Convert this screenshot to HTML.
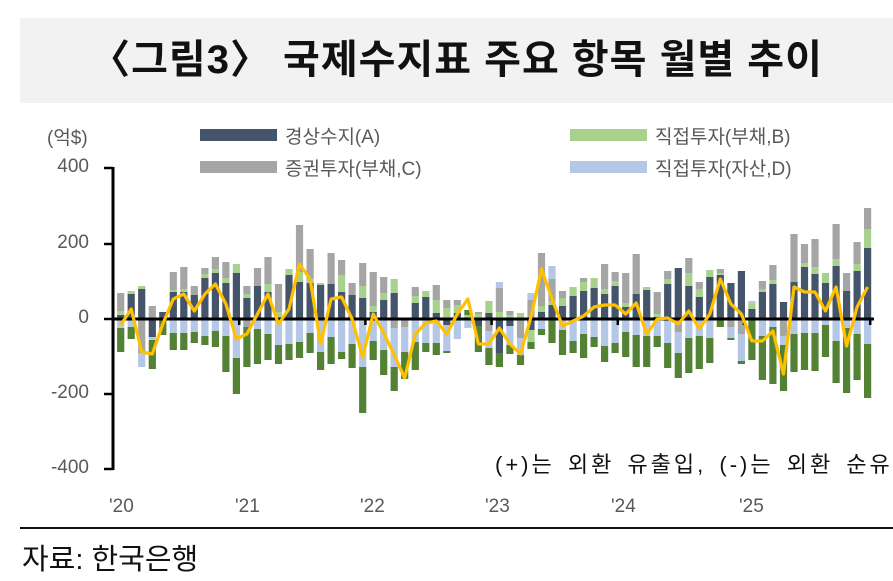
<!DOCTYPE html>
<html><head><meta charset="utf-8">
<style>
html,body{margin:0;padding:0;background:#fff;}
body{width:893px;height:581px;position:relative;overflow:hidden;font-family:"Liberation Sans","Noto Sans CJK KR",sans-serif;}
.band{position:absolute;left:20px;top:18px;width:873px;height:85px;background:#f2f2f2;}
.title{position:absolute;left:20px;top:18px;width:873px;height:85px;line-height:85px;text-align:center;font-size:40px;font-weight:bold;color:#111;letter-spacing:1px;}
.t{position:absolute;font-size:19px;color:#595959;white-space:nowrap;}
.sw{position:absolute;width:77px;height:12px;}
.src{position:absolute;left:22px;top:536px;font-size:29px;color:#111;}
.hr{position:absolute;left:20px;top:527px;width:873px;height:2px;background:#111;}
svg{position:absolute;left:0;top:0;}
</style></head><body>
<div class="band"></div>
<div class="title">〈그림3〉 국제수지표 주요 항목 월별 추이</div>
<div class="t" style="left:47px;top:123px;">(억$)</div>
<div class="sw" style="left:200px;top:129px;background:#44546a"></div>
<div class="t" style="left:285px;top:122px;">경상수지(A)</div>
<div class="sw" style="left:570px;top:129px;background:#a9d18e"></div>
<div class="t" style="left:655px;top:122px;">직접투자(부채,B)</div>
<div class="sw" style="left:200px;top:161px;background:#a5a5a5"></div>
<div class="t" style="left:285px;top:154px;">증권투자(부채,C)</div>
<div class="sw" style="left:570px;top:161px;background:#b4c7e7"></div>
<div class="t" style="left:655px;top:154px;">직접투자(자산,D)</div>
<div class="t" style="left:40px;top:156px;width:49px;text-align:right;">400</div>
<div class="t" style="left:40px;top:232px;width:49px;text-align:right;">200</div>
<div class="t" style="left:40px;top:307px;width:49px;text-align:right;">0</div>
<div class="t" style="left:40px;top:382px;width:49px;text-align:right;">-200</div>
<div class="t" style="left:40px;top:457px;width:49px;text-align:right;">-400</div>
<div class="t" style="left:495px;top:447px;color:#111;font-size:22px;letter-spacing:3px;word-spacing:4px;">(+)는 외환 유출입, (-)는 외환 순유출</div>
<div class="t" style="left:109px;top:496px;">'20</div>
<div class="t" style="left:235px;top:496px;">'21</div>
<div class="t" style="left:360px;top:496px;">'22</div>
<div class="t" style="left:485px;top:496px;">'23</div>
<div class="t" style="left:611px;top:496px;">'24</div>
<div class="t" style="left:739px;top:496px;">'25</div>
<div class="hr"></div>
<div class="src">자료: 한국은행</div>
<svg id="c" width="893" height="581"></svg>
<script>
var D=[
["d4 l4 g18","b9 G24",-6],["d25 l3","b8 G12",10],["d30 l3","g34 b14",-33],["g13","d18 b3 G29",-35],["d7","G16",-5],
["d27 l2 g18","b14 G17",20],["d27 l3 g22","b14 G17",25],["d24 g9","b13 G11",8],["d41 l4 g6","b17 G9",25],["d46 l4 g12","b12 G16",35],
["d36 l5 g16","b17 G36",15],["d46 l9","b39 G36",-20],["d21 l4 g8","g8 G40",-15],["d33 g18","b10 G35",5],["d27 l8 g27","b15 G26",25],
["l7 g28","b26 G19",-5],["d44 l6","b25 G16",10],["d37 l10 g47","b23 G16",55],["d36 l4 g30","b14 G20",40],["d34 l2","b33 G18",-25],
["d35 g31","b18 G27",20],["d27 l17 g15","b33 G7",22],["d24 g12","b25 G24",0],["d21 l12 g23","b48 G46",-38],
["d7 l6 g34","b22 G19",5],["d19 l7 g16","b31 G25",-14],["d26 l14","g9 b39 G24",-36],["","g8 b25 G27",-59],["d16 l7 g9","b23 G28",-15],
["d22 l6","b24 G9",-4],["d6 l13 g15","b24 G12",-2],["l11 g8","d6 b26 G2",-15],["d6 l8 g5","b20",5],["l4 G5","b9",20],
["l5 g2","d7 G26",-25],["d6 l12","g12 b17 G17",-25],["l7 g24 b6","d34 G14",-9],["l4 g4","d7 b19 G9",-25],["l6","g19 b17 G10",-35],
["g19 b7","d11 l12 G7",2],["d7 l6 g53","b10 G6",50],["d14 l4 g22 b13","G24",20],["d13 l8 g7","b11 G25",-7],["d23 l9","b22 G12",-2],
["d28 l9 g4","b15 G24",3],["d31 l10","b18 G10",12],["d25 l5 g25","b27 G16",14],["d33 l5 g9","b24 G10",14],["d12 l4 g30","b13 G25",5],
["d25 g40","b16 G32",16],["d29 l3","b17 G31",-15],["d2 l3 g22","b17 G11",0],["d35 l5 g8","b24 G25",1],["d51","g13 b21 G25",-5],
["d33 l13 g15","b19 G35",8],["d22 l8 g7","b17 G33",-10],["d42 l7","b19 G25",5],["d44 l2 g4","G8",40],["d36","g8 b11 G2",15],
["d48","g15 b27 G3",5],["d10 l5 b3","G41",-22],["d27 l3 g8","b17 G44",-22],["d35 l4 g15","b8 G57",-12],["d17","g17 b9 G46",-55],
["d37 g48","b15 G38",32],["d52 l4 g19","b14 G37",27],["d45 l7 g28","b14 G38",27],["d36 l10","b6 G32",8],["d53 l7 g35","b22 G42",32],
["d28 g18","b9 G65",-27],["d48 l7 g22","b15 G46",12],["d71 l19 g21","b25 G54",32]];
var C={d:"#44546a",l:"#a9d18e",g:"#a5a5a5",b:"#b4c7e7",G:"#548235"};
var s='',Z=319,pts=[];
function segs(str){return str?str.split(' ').map(function(x){return [x[0],+x.slice(1)];}):[];}
for(var i=0;i<D.length;i++){
 var cx=120.7+i*10.52,x=cx-3.6,y=Z;
 segs(D[i][0]).forEach(function(p){y-=p[1];s+='<rect x="'+x.toFixed(1)+'" y="'+y+'" width="7.2" height="'+p[1]+'" fill="'+C[p[0]]+'"/>';});
 y=Z;
 segs(D[i][1]).forEach(function(p){s+='<rect x="'+x.toFixed(1)+'" y="'+y+'" width="7.2" height="'+p[1]+'" fill="'+C[p[0]]+'"/>';y+=p[1];});
 pts.push(cx.toFixed(1)+','+(Z-D[i][2]));
}
s+='<line x1="113" y1="'+Z+'" x2="874" y2="'+Z+'" stroke="#000" stroke-width="3"/>';
for(var k=1;k<=6;k++){var tx=113+k*126.2;s+='<line x1="'+tx+'" y1="'+Z+'" x2="'+tx+'" y2="'+(Z+6)+'" stroke="#000" stroke-width="2.5"/>';}
s+='<line x1="113" y1="167" x2="113" y2="470" stroke="#000" stroke-width="3"/>';
[168,244,319,394,469].forEach(function(t){s+='<line x1="104" y1="'+t+'" x2="113" y2="'+t+'" stroke="#000" stroke-width="2.5"/>';});
s+='<polyline points="'+pts.join(' ')+'" fill="none" stroke="#ffc000" stroke-width="3.2" stroke-linejoin="round"/>';
document.getElementById('c').innerHTML=s;
</script>
</body></html>
